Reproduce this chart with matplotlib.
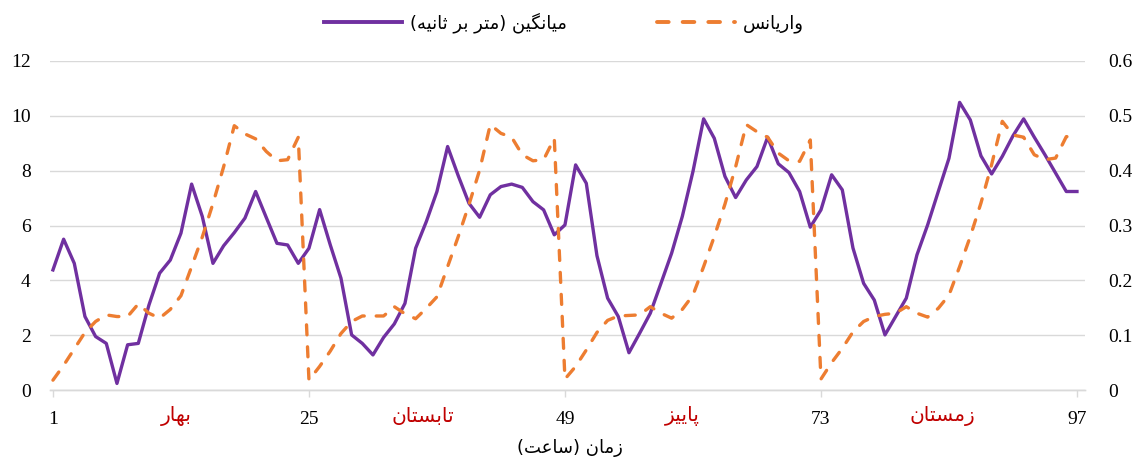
import matplotlib
matplotlib.use("Agg")
import matplotlib.pyplot as plt
from matplotlib.lines import Line2D

# hourly values, 4 seasons x 24 h (+ closing point)
hours = list(range(1, 98))
mean_speed = [4.38, 5.50, 4.62, 2.68, 1.95, 1.70, 0.24, 1.65, 1.70, 3.10,
              4.26, 4.74, 5.72, 7.51, 6.33, 4.62, 5.26, 5.74, 6.27, 7.24,
              6.29, 5.35, 5.29, 4.62, 5.17, 6.58, 5.29, 4.08, 2.01, 1.70,
              1.28, 1.92, 2.41, 3.16, 5.17, 6.14, 7.24, 8.88, 7.81, 6.81,
              6.30, 7.12, 7.42, 7.51, 7.39, 6.87, 6.57, 5.66, 6.02, 8.21,
              7.54, 4.90, 3.35, 2.68, 1.36, 2.07, 2.80, 3.89, 4.99, 6.33,
              7.97, 9.89, 9.18, 7.79, 7.02, 7.66, 8.15, 9.22, 8.25, 7.93,
              7.24, 5.94, 6.57, 7.85, 7.30, 5.18, 3.89, 3.28, 2.01, 2.68,
              3.35, 4.93, 6.02, 7.24, 8.45, 10.49, 9.85, 8.54, 7.88, 8.52,
              9.27, 9.89, 9.22, 8.58, 7.91, 7.24, 7.24]
variance = [0.018, 0.045, 0.075, 0.105, 0.125, 0.137, 0.134, 0.134, 0.157, 0.140,
            0.131, 0.147, 0.172, 0.225, 0.279, 0.340, 0.407, 0.482, 0.467, 0.458,
            0.435, 0.418, 0.420, 0.461, 0.018, 0.043, 0.071, 0.103, 0.125, 0.135,
            0.135, 0.135, 0.152, 0.139, 0.130, 0.149, 0.170, 0.225, 0.280, 0.338,
            0.401, 0.484, 0.468, 0.461, 0.429, 0.418, 0.420, 0.459, 0.020, 0.043,
            0.073, 0.105, 0.127, 0.135, 0.136, 0.137, 0.152, 0.140, 0.131, 0.147,
            0.173, 0.225, 0.280, 0.339, 0.407, 0.484, 0.471, 0.461, 0.432, 0.418,
            0.417, 0.456, 0.020, 0.050, 0.076, 0.106, 0.125, 0.134, 0.138, 0.140,
            0.152, 0.140, 0.133, 0.149, 0.173, 0.225, 0.280, 0.341, 0.411, 0.490,
            0.465, 0.461, 0.429, 0.420, 0.423, 0.462, 0.463]

xticks = [1, 25, 49, 73, 97]
seasons = ["بهار", "تابستان", "پاییز", "زمستان"]
season_pos = [12.6, 35.7, 60.0, 84.4]
lbl_mean = "میانگین (متر بر ثانیه)"
lbl_var = "واریانس"
xlabel = "زمان (ساعت)"

PURPLE = "#7030A0"; ORANGE = "#ED7D31"; RED = "#C00000"; GRID = "#D9D9D9"

# minimal arabic shaping (isolated, final, initial, medial)
FORMS = {
    "ا": ("\uFE8D", "\uFE8E", None, None),
    "ب": ("\uFE8F", "\uFE90", "\uFE91", "\uFE92"),
    "پ": ("\uFB56", "\uFB57", "\uFB58", "\uFB59"),
    "ت": ("\uFE95", "\uFE96", "\uFE97", "\uFE98"),
    "ث": ("\uFE99", "\uFE9A", "\uFE9B", "\uFE9C"),
    "ر": ("\uFEAD", "\uFEAE", None, None),
    "ز": ("\uFEAF", "\uFEB0", None, None),
    "س": ("\uFEB1", "\uFEB2", "\uFEB3", "\uFEB4"),
    "ع": ("\uFEC9", "\uFECA", "\uFECB", "\uFECC"),
    "گ": ("\uFB92", "\uFB93", "\uFB94", "\uFB95"),
    "ل": ("\uFEDD", "\uFEDE", "\uFEDF", "\uFEE0"),
    "م": ("\uFEE1", "\uFEE2", "\uFEE3", "\uFEE4"),
    "ن": ("\uFEE5", "\uFEE6", "\uFEE7", "\uFEE8"),
    "ه": ("\uFEE9", "\uFEEA", "\uFEEB", "\uFEEC"),
    "و": ("\uFEED", "\uFEEE", None, None),
    "ی": ("\uFBFC", "\uFBFD", "\uFBFE", "\uFBFF"),
}


def fa(txt):
    out = []
    for k, ch in enumerate(txt):
        if ch not in FORMS:
            out.append(ch)
            continue
        prev = txt[k - 1] if k > 0 else ""
        nxt = txt[k + 1] if k + 1 < len(txt) else ""
        f = FORMS[ch]
        jp = prev in FORMS and FORMS[prev][2] is not None
        jn = f[2] is not None and nxt in FORMS
        out.append(f[3] if jp and jn else f[1] if jp else f[2] if jn else f[0])
    return "".join(reversed(out)).translate(str.maketrans("()", ")("))


NUMFONT = "Liberation Serif"
FAFONT = "DejaVu Sans"

fig = plt.figure(figsize=(11.33, 4.62), dpi=100)
ax = fig.add_axes([0.0441, 0.1558, 0.9135, 0.7122])
ax2 = ax.twinx()

ax.plot(hours, mean_speed, color=PURPLE, lw=2.4, solid_joinstyle="round")
ax2.plot(hours, variance, color=ORANGE, lw=2.4, linestyle=(0, (3, 3.6)),
         dash_capstyle="round")

ax.set_xlim(0.72, 97.75)
ax.set_ylim(0, 12)
ax2.set_ylim(0, 0.6)
ax.set_yticks(range(0, 13, 2))
ax2.set_yticks([0, 0.1, 0.2, 0.3, 0.4, 0.5, 0.6])
ax2.set_yticklabels(["0", "0.1", "0.2", "0.3", "0.4", "0.5", "0.6"])
ax.set_xticks(xticks)

ax.grid(axis="y", color=GRID, lw=1.0)
ax.set_axisbelow(True)
for a in (ax, ax2):
    for s in ("left", "right", "top"):
        a.spines[s].set_visible(False)
    a.spines["bottom"].set_color(GRID)
    a.spines["bottom"].set_linewidth(1.0)
ax.tick_params(axis="y", length=0, pad=14, labelsize=14, labelfontfamily=NUMFONT)
ax2.tick_params(axis="y", length=0, pad=17, labelsize=14, labelfontfamily=NUMFONT)
ax.tick_params(axis="x", length=5, color=GRID, width=1.0, pad=10, labelsize=14,
               labelfontfamily=NUMFONT)

for name, pos in zip(seasons, season_pos):
    ax.text(pos, -0.08, fa(name), transform=ax.get_xaxis_transform(),
            ha="center", va="center", color=RED, fontsize=14.5, family=FAFONT)

fig.text(0.503, 0.03, fa(xlabel), ha="center", va="center", fontsize=13,
         family=FAFONT)

handles = [Line2D([], [], color=PURPLE, lw=2.8),
           Line2D([], [], color=ORANGE, lw=2.8, linestyle=(0, (3, 3.6)),
                  dash_capstyle="round")]
fig.legend(handles, [fa(lbl_mean), fa(lbl_var)], loc="center",
           bbox_to_anchor=(0.498, 0.952), ncol=2, frameon=False,
           handlelength=4.3, columnspacing=5.0, handletextpad=0.45,
           prop={"family": FAFONT, "size": 13})

fig.savefig("out.png", dpi=100)
